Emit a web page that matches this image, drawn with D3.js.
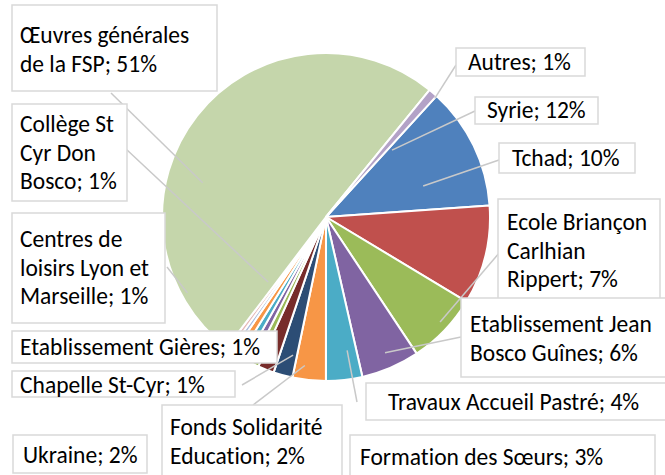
<!DOCTYPE html>
<html>
<head>
<meta charset="utf-8">
<script src="https://cdn.jsdelivr.net/npm/d3@7"></script>
<style>
  body { margin: 0; background: #fff; }
  text { font-variant-ligatures: none; }
</style>
</head>
<body>
<div id="chart"></div>
<script>
    // slices, clockwise from the first one (Syrie)
    let categories = [
        "Syrie", "Tchad", "Ecole Briançon Carlhian Rippert", "Etablissement Jean Bosco Guînes",
        "Travaux Accueil Pastré", "Formation des Sœurs", "Fonds Solidarité Education", "Ukraine",
        "Chapelle St-Cyr", "Etablissement Gières", "Centres de loisirs Lyon et Marseille",
        "Collège St Cyr Don Bosco", "", "", "Œuvres générales de la FSP", "Autres"
    ];
    let values = [12.2, 9.8, 7.1, 5.8, 3.6, 3.3, 1.9, 1.6, 0.7, 0.7, 0.7, 0.7, 0.4, 0.4, 50.9, 0.9];

    let colors = [
        "#4F81BD", "#C0504D", "#9BBB59", "#8064A2", "#4BACC6", "#F79646", "#2C4D75", "#772C2A",
        "#9BBB59", "#8064A2", "#4BACC6", "#F79646", "#A9BCE0", "#E6B9B8", "#C5D6AB", "#B3A2C7"
    ];

    // label boxes: box [x, y, w, h], text x, first baseline, words per line,
    // leader start [x, y], leader end [angle deg, radius]
    let labelLayout = {
        0:  {box: [475, 97, 123, 27],  tx: 487, ty: 118, lines: [2], from: [475, 111], to: [44.6, 94]},
        1:  {box: [499, 143, 136, 30], tx: 512, ty: 166, lines: [2], from: [499, 160], to: [72.3, 102]},
        2:  {box: [498, 199, 162, 100], tx: 507, ty: 230, lines: [2, 1, 2], from: [500, 252], to: [132.6, 155]},
        3:  {box: [461, 298, 210, 79], tx: 470, ty: 332, lines: [2, 3], from: [461, 337], to: [156.5, 148]},
        4:  {box: [366, 383, 305, 37], tx: 388, ty: 410, lines: [4], from: [357, 402], to: [171, 135]},
        5:  {box: [350, 435, 305, 50], tx: 360, ty: 465, lines: [4], from: null},
        6:  {box: [162, 405, 180, 80], tx: 170, ty: 435, lines: [2, 2], from: [253, 405], to: [188.1, 150]},
        7:  {box: [13, 435, 134, 38],  tx: 23, ty: 463, lines: [2], from: null},
        8:  {box: [12, 371, 223, 26],  tx: 20, ty: 393, lines: [3], from: [242, 385], to: [193.4, 142]},
        9:  {box: [12, 331, 265, 32],  tx: 20, ty: 355, lines: [3], from: null},
        10: {box: [12, 213, 153, 110], tx: 20, ty: 247, lines: [2, 3, 2], from: [167, 267], to: [241.3, 158]},
        11: {box: [12, 104, 115, 97],  tx: 20, ty: 132, lines: [2, 2, 2], from: [126, 149], to: [221.7, 87]},
        14: {box: [12, 5, 205, 86],    tx: 20, ty: 43, lines: [2, 4], from: [111, 93], to: [285.5, 128]},
        15: {box: [456, 48, 129, 28],  tx: 468, ty: 70, lines: [2], from: [456, 65], to: [42.5, 161]}
    };

    let width = 665, height = 475;
    let cx = 326, cy = 217, radius = 164;
    let firstAngle = 42.4 * Math.PI / 180;
    let lineHeight = 28.5;

    let total = d3.sum(values);

    let svg = d3.select("#chart")
        .append("svg")
        .attr("width", width)
        .attr("height", height);

    let pie = d3.pie()
        .sort(null)
        .value(d => d)
        .startAngle(firstAngle)
        .endAngle(firstAngle + 2 * Math.PI);

    let arc = d3.arc()
        .innerRadius(0)
        .outerRadius(radius);

    let arcs = pie(values);

    let g = svg.append("g")
        .attr("transform", "translate(" + cx + "," + cy + ")");

    g.selectAll("path")
        .data(arcs)
        .enter()
        .append("path")
        .attr("d", arc)
        .attr("fill", (d, i) => colors[i])
        .attr("stroke", "#fff")
        .attr("stroke-width", 2)
        .attr("stroke-linejoin", "round");

    // labels that have a box
    let labelled = arcs
        .map((d, i) => i)
        .filter(i => labelLayout[i]);

    // leader lines
    labelled.forEach(i => {
        let L = labelLayout[i];
        if (!L.from) return;
        let p = d3.pointRadial(L.to[0] * Math.PI / 180, L.to[1]);
        svg.append("line")
            .attr("x1", L.from[0])
            .attr("y1", L.from[1])
            .attr("x2", cx + p[0])
            .attr("y2", cy + p[1])
            .attr("stroke", "#C9C9C9")
            .attr("stroke-width", 1.5);
    });

    // boxes and text
    labelled.forEach(i => {
        let L = labelLayout[i];
        let pct = Math.round(values[i] / total * 100);
        let words = (categories[i] + "; " + pct + "%").split(" ");

        svg.append("rect")
            .attr("x", L.box[0])
            .attr("y", L.box[1])
            .attr("width", L.box[2])
            .attr("height", L.box[3])
            .attr("fill", "#fff")
            .attr("stroke", "#D9D9D9")
            .attr("stroke-width", 1.5);

        let text = svg.append("text")
            .attr("font-family", "Carlito, Lato, sans-serif")
            .attr("font-size", "23.5px")
            .attr("fill", "#000");

        let k = 0;
        L.lines.forEach((n, j) => {
            text.append("tspan")
                .attr("x", L.tx)
                .attr("y", L.ty + j * lineHeight)
                .text(words.slice(k, k + n).join(" "));
            k += n;
        });
    });
</script>
</body>
</html>
